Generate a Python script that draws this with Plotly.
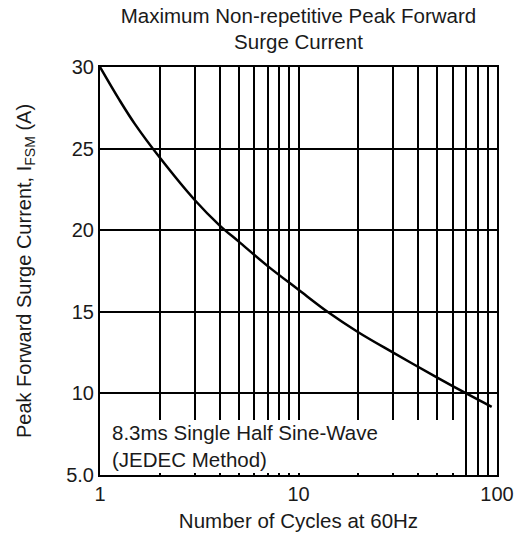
import plotly.graph_objects as go

# Data
cycles = [1, 1.25, 1.5, 2, 3, 4, 5, 7, 10, 14, 20, 30, 50, 70, 94]
surge_current = [30, 28.0, 26.5, 24.45, 21.85, 20.3, 19.3, 17.8, 16.35, 15.0,
                 13.75, 12.5, 10.97, 10.0, 9.18]

x_tickvals = [1, 2, 3, 4, 5, 6, 7, 8, 9, 10, 20, 30, 40, 50, 60, 70, 80, 90, 100]
x_ticktext = ["1", "", "", "", "", "", "", "", "", "10", "", "", "", "", "", "", "", "", "100"]
y_tickvals = [5, 10, 15, 20, 25, 30]
y_ticktext = ["5.0", "10", "15", "20", "25", "30"]

font_family = "Liberation Sans, Arial, sans-serif"
txt = "#1a1a1a"

fig = go.Figure()
fig.add_trace(go.Scatter(
    x=cycles, y=surge_current, mode="lines",
    line=dict(color="black", width=2.5, shape="spline", smoothing=1.0),
    showlegend=False, hoverinfo="skip",
))

# white label box hiding grid lines in lower-left
fig.add_shape(type="rect", xref="paper", yref="paper", x0=0.005, x1=0.897, y0=0.005, y1=0.135,
              fillcolor="white", line=dict(width=0), layer="above")

fig.add_annotation(xref="paper", yref="paper", x=0.024, y=0.103, xanchor="left", yanchor="middle",
                   text="8.3ms Single Half Sine-Wave", showarrow=False,
                   font=dict(family=font_family, size=20.5, color=txt))
fig.add_annotation(xref="paper", yref="paper", x=0.024, y=0.039, xanchor="left", yanchor="middle",
                   text="(JEDEC Method)", showarrow=False,
                   font=dict(family=font_family, size=20.5, color=txt))

fig.update_layout(
    width=529, height=540,
    margin=dict(l=100, r=32, t=67, b=65),
    paper_bgcolor="white", plot_bgcolor="white",
    font=dict(family=font_family, size=20, color=txt),
    title=dict(text="Maximum Non-repetitive Peak Forward<br>Surge Current",
               x=0.5, xref="paper", y=0.958, yref="container", yanchor="middle",
               font=dict(size=20.5, color=txt)),
    xaxis=dict(type="log", range=[0, 2], tickvals=x_tickvals, ticktext=x_ticktext,
               showgrid=True, gridcolor="black", gridwidth=1.5,
               showline=True, linecolor="black", linewidth=2, mirror=True,
               ticks="", tickfont=dict(size=20), zeroline=False, automargin=False,
               title=dict(text="Number of Cycles at 60Hz", standoff=10, font=dict(size=20.5))),
    yaxis=dict(range=[5, 30], tickvals=y_tickvals, ticktext=y_ticktext,
               showgrid=True, gridcolor="black", gridwidth=1.5,
               showline=True, linecolor="black", linewidth=2, mirror=True,
               ticks="", tickfont=dict(size=20), zeroline=False, automargin=False,
               title=dict(text="Peak Forward Surge Current, I<sub>FSM</sub> (A)", standoff=29,
                          font=dict(size=20))),
)

fig.write_html("out.html", config={"displayModeBar": False},
               post_script="document.body.style.margin='0';")
